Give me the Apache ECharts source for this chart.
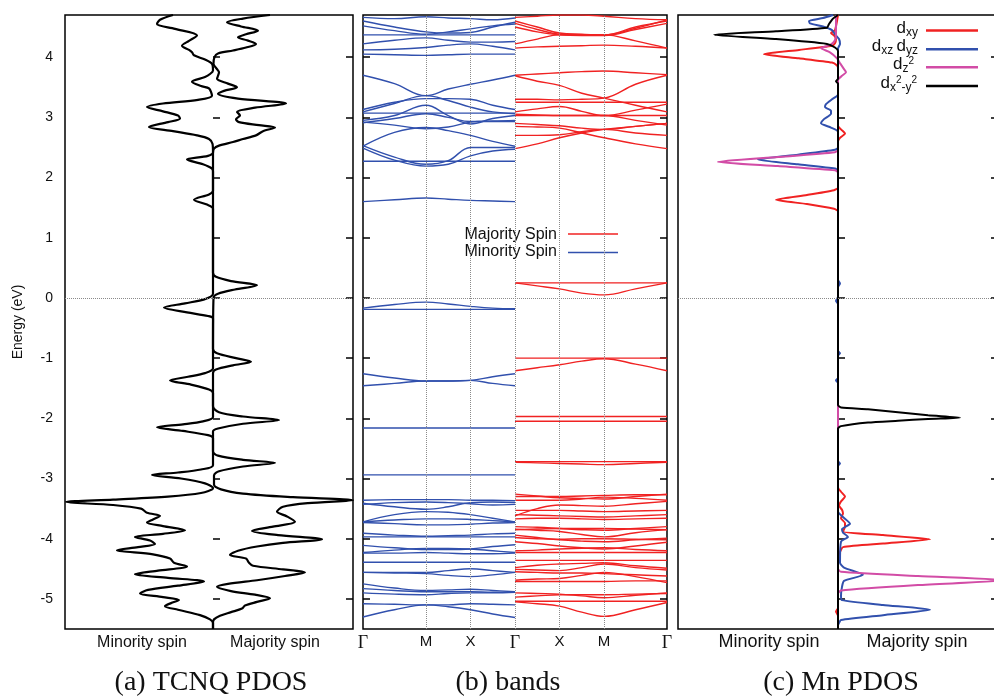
<!DOCTYPE html>
<html>
<head>
<meta charset="utf-8">
<script src="https://cdn.jsdelivr.net/npm/echarts@6/dist/echarts.min.js"></script>
<style>
  html, body { margin: 0; padding: 0; background: #fff; }
  #chart { width: 994px; height: 698px; }
</style>
</head>
<body>
<div id="chart"></div>
<script>
// energy axis shared by the three panels
var E_MIN = -5.5, E_MAX = 4.7;
var energyTicks = [-5, -4, -3, -2, -1, 0, 1, 2, 3, 4];

// (a) TCNQ PDOS, [energy, dos] (arb. units, minority negative)
var tcnqMajority = [
  [4.70, 5.7], [4.64, 3.0], [4.58, 1.4], [4.51, 2.8], [4.44, 4.5], [4.38, 3.3], [4.33, 2.5],
  [4.28, 3.4], [4.22, 4.3], [4.16, 3.3], [4.11, 2.0], [4.06, 0.5], [4.00, 0.15], [3.89, 0.05],
  [3.80, 0.4], [3.75, 0.6], [3.69, 0.5], [3.64, 0.4], [3.56, 1.5], [3.50, 2.4], [3.44, 1.1],
  [3.39, 0.5], [3.31, 2.5], [3.23, 7.3], [3.16, 4.2], [3.09, 2.4], [3.03, 2.7], [2.97, 2.3],
  [2.92, 2.6], [2.87, 4.6], [2.83, 6.2], [2.77, 5.0], [2.70, 4.3], [2.64, 3.0], [2.59, 2.0],
  [2.53, 0.6], [2.48, 0.1], [2.40, 0], [0.42, 0], [0.35, 0.3], [0.28, 1.8], [0.21, 4.4],
  [0.14, 2.2], [0.07, 0.5], [0.00, 0.05], [-0.85, 0], [-0.92, 0.4], [-1.00, 2.3], [-1.06, 3.8],
  [-1.12, 2.0], [-1.19, 0.3], [-1.25, 0], [-1.80, 0], [-1.90, 0.6], [-1.97, 3.0], [-2.03, 6.6],
  [-2.09, 3.0], [-2.17, 0.5], [-2.22, 0], [-2.55, 0], [-2.62, 0.5], [-2.69, 3.0], [-2.74, 6.2],
  [-2.80, 3.0], [-2.88, 0.6], [-2.95, 0.1], [-3.10, 0.1], [-3.18, 0.8], [-3.25, 3.0],
  [-3.31, 8.0], [-3.36, 14.0], [-3.41, 9.5], [-3.47, 7.0], [-3.55, 6.4], [-3.63, 7.4],
  [-3.72, 8.2], [-3.80, 6.0], [-3.87, 3.9], [-3.94, 6.5], [-4.01, 10.9], [-4.07, 7.0],
  [-4.13, 4.4], [-4.20, 2.5], [-4.27, 1.7], [-4.33, 3.3], [-4.40, 3.6], [-4.45, 4.0],
  [-4.51, 7.0], [-4.56, 9.2], [-4.62, 7.2], [-4.69, 4.4], [-4.75, 1.5], [-4.80, 0.4],
  [-4.87, 1.8], [-4.93, 4.2], [-4.99, 5.7], [-5.05, 4.4], [-5.11, 3.2], [-5.16, 2.9],
  [-5.22, 1.8], [-5.28, 0.7], [-5.34, 0.1], [-5.40, 0], [-5.50, 0]
];
var tcnqMinority = [
  [4.70, -4.0], [4.62, -5.3], [4.55, -5.6], [4.47, -3.8], [4.36, -1.6], [4.27, -2.4],
  [4.19, -3.1], [4.12, -2.4], [4.08, -2.1], [4.03, -1.9], [3.96, -0.8], [3.89, -0.1],
  [3.78, 0], [3.72, -0.3], [3.67, -0.8], [3.59, -2.1], [3.52, -1.2], [3.48, -0.4],
  [3.36, -0.1], [3.29, -1.5], [3.23, -5.0], [3.17, -6.6], [3.10, -5.0], [3.03, -3.5],
  [2.98, -3.3], [2.92, -4.5], [2.84, -6.4], [2.77, -4.0], [2.70, -1.6], [2.64, -0.4],
  [2.56, -0.05], [2.42, 0], [2.36, -0.5], [2.30, -2.6], [2.22, -1.0], [2.15, -0.1],
  [2.10, 0], [1.78, 0], [1.72, -0.4], [1.63, -1.9], [1.55, -0.6], [1.48, 0], [0.07, 0],
  [-0.02, -0.8], [-0.09, -2.8], [-0.16, -4.9], [-0.24, -2.6], [-0.30, -0.5], [-0.34, 0],
  [-1.17, 0], [-1.25, -0.8], [-1.31, -2.5], [-1.37, -4.3], [-1.44, -2.2], [-1.52, -0.4],
  [-1.58, 0], [-1.98, 0], [-2.05, -1.0], [-2.10, -3.0], [-2.15, -5.6], [-2.21, -3.0],
  [-2.28, -0.5], [-2.33, 0], [-2.78, 0], [-2.85, -1.2], [-2.90, -3.5], [-2.94, -6.1],
  [-3.00, -3.2], [-3.08, -0.8], [-3.16, 0], [-3.24, -1.2], [-3.30, -4.5], [-3.35, -10.0],
  [-3.39, -14.7], [-3.44, -10.0], [-3.50, -7.2], [-3.57, -6.6], [-3.62, -5.3], [-3.68, -6.0],
  [-3.73, -6.6], [-3.79, -5.0], [-3.86, -2.8], [-3.92, -5.0], [-3.97, -7.8], [-4.03, -6.3],
  [-4.09, -5.8], [-4.14, -7.5], [-4.19, -9.6], [-4.26, -6.0], [-4.33, -4.3], [-4.40, -3.9],
  [-4.46, -2.6], [-4.53, -5.5], [-4.59, -7.8], [-4.65, -4.5], [-4.71, -0.9], [-4.78, -3.5],
  [-4.85, -6.5], [-4.91, -7.3], [-4.97, -5.0], [-5.02, -3.4], [-5.07, -4.2], [-5.12, -4.8],
  [-5.18, -3.5], [-5.27, -1.3], [-5.34, -0.3], [-5.40, 0], [-5.50, 0]
];

// (b) bands: path positions and tick labels
var kTicks = [0, 1.414, 2.414, 3.414, 4.414, 5.414, 6.828];
var kLabels = ['Γ', 'M', 'X', 'Γ', 'X', 'M', 'Γ'];
var kMinority = [0, 0.707, 1.414, 1.914, 2.414, 2.914, 3.414];     // Γ-M-X-Γ
var kMajority = [3.414, 3.914, 4.414, 4.914, 5.414, 6.121, 6.828]; // Γ-X-M-Γ

var minorityBands = [
  [4.66, 4.64, 4.67, 4.65, 4.64, 4.62, 4.65],
  [4.60, 4.50, 4.42, 4.40, 4.41, 4.50, 4.58],
  [4.52, 4.44, 4.38, 4.42, 4.47, 4.52, 4.55],
  [4.37, 4.37, 4.37, 4.37, 4.37, 4.37, 4.37],
  [4.22, 4.28, 4.32, 4.28, 4.25, 4.25, 4.26],
  [4.12, 4.13, 4.16, 4.20, 4.22, 4.18, 4.12],
  [4.05, 4.04, 4.03, 4.04, 4.05, 4.05, 4.05],
  [3.70, 3.56, 3.36, 3.47, 3.55, 3.62, 3.70],
  [3.09, 3.23, 3.36, 3.28, 3.17, 3.09, 3.06],
  [3.13, 3.25, 3.31, 3.31, 3.30, 3.20, 3.13],
  [3.07, 3.07, 3.07, 3.07, 3.07, 3.07, 3.07],
  [2.95, 3.03, 3.20, 3.03, 2.89, 2.98, 3.03],
  [2.92, 2.87, 2.81, 2.84, 2.92, 2.94, 2.95],
  [2.91, 2.98, 3.06, 3.00, 2.93, 2.93, 2.93],
  [2.53, 2.34, 2.22, 2.28, 2.50, 2.50, 2.50],
  [2.49, 2.29, 2.19, 2.22, 2.36, 2.44, 2.47],
  [2.52, 2.75, 2.83, 2.78, 2.70, 2.60, 2.52],
  [2.27, 2.27, 2.27, 2.27, 2.27, 2.27, 2.27],
  [1.60, 1.63, 1.66, 1.64, 1.62, 1.61, 1.60],
  [-0.17, -0.11, -0.07, -0.10, -0.14, -0.17, -0.18],
  [-0.19, -0.19, -0.19, -0.19, -0.19, -0.19, -0.19],
  [-1.26, -1.33, -1.38, -1.38, -1.37, -1.31, -1.26],
  [-1.46, -1.42, -1.38, -1.38, -1.37, -1.42, -1.46],
  [-2.16, -2.16, -2.16, -2.16, -2.16, -2.16, -2.16],
  [-2.94, -2.94, -2.94, -2.94, -2.94, -2.94, -2.94],
  [-3.36, -3.35, -3.35, -3.35, -3.36, -3.36, -3.37],
  [-3.41, -3.47, -3.51, -3.47, -3.40, -3.39, -3.40],
  [-3.43, -3.40, -3.39, -3.40, -3.42, -3.44, -3.43],
  [-3.72, -3.60, -3.55, -3.56, -3.60, -3.66, -3.72],
  [-3.72, -3.69, -3.67, -3.67, -3.68, -3.70, -3.72],
  [-3.73, -3.75, -3.77, -3.77, -3.76, -3.74, -3.73],
  [-3.91, -3.94, -3.96, -3.95, -3.94, -3.92, -3.91],
  [-3.97, -3.97, -3.97, -3.97, -3.97, -3.97, -3.97],
  [-4.11, -4.15, -4.18, -4.18, -4.17, -4.13, -4.10],
  [-4.23, -4.19, -4.16, -4.16, -4.17, -4.20, -4.23],
  [-4.24, -4.24, -4.23, -4.24, -4.25, -4.25, -4.24],
  [-4.39, -4.39, -4.39, -4.39, -4.39, -4.39, -4.39],
  [-4.56, -4.56, -4.56, -4.53, -4.50, -4.53, -4.56],
  [-4.56, -4.57, -4.58, -4.61, -4.63, -4.60, -4.56],
  [-4.75, -4.82, -4.86, -4.85, -4.84, -4.86, -4.88],
  [-4.83, -4.86, -4.88, -4.88, -4.88, -4.89, -4.89],
  [-4.90, -4.92, -4.93, -4.91, -4.90, -4.90, -4.89],
  [-5.08, -5.09, -5.10, -5.10, -5.08, -5.09, -5.10],
  [-5.30, -5.18, -5.10, -5.13, -5.18, -5.25, -5.31]
];

var majorityBands = [
  [4.66, 4.68, 4.70, 4.70, 4.68, 4.64, 4.62],
  [4.60, 4.50, 4.40, 4.38, 4.37, 4.48, 4.62],
  [4.56, 4.46, 4.38, 4.37, 4.37, 4.50, 4.60],
  [4.50, 4.42, 4.37, 4.36, 4.36, 4.46, 4.56],
  [4.22, 4.30, 4.37, 4.37, 4.37, 4.27, 4.15],
  [4.15, 4.17, 4.18, 4.19, 4.20, 4.18, 4.15],
  [3.70, 3.72, 3.74, 3.76, 3.77, 3.74, 3.71],
  [3.69, 3.60, 3.53, 3.40, 3.32, 3.20, 3.09],
  [3.30, 3.30, 3.29, 3.30, 3.32, 3.55, 3.70],
  [3.25, 3.25, 3.25, 3.25, 3.25, 3.25, 3.25],
  [3.09, 3.14, 3.18, 3.10, 3.03, 3.12, 3.22],
  [3.05, 3.04, 3.03, 3.03, 3.03, 2.95, 2.87],
  [3.03, 3.03, 3.03, 3.03, 3.03, 3.03, 3.03],
  [2.90, 2.88, 2.86, 2.82, 2.80, 2.85, 2.90],
  [2.70, 2.70, 2.71, 2.76, 2.80, 2.74, 2.70],
  [2.48, 2.56, 2.66, 2.74, 2.80, 2.85, 2.90],
  [2.85, 2.84, 2.82, 2.74, 2.66, 2.56, 2.48],
  [0.25, 0.25, 0.25, 0.25, 0.25, 0.25, 0.25],
  [0.25, 0.20, 0.15, 0.08, 0.05, 0.15, 0.25],
  [-1.00, -1.00, -1.00, -1.00, -1.00, -1.00, -1.00],
  [-1.21, -1.16, -1.11, -1.05, -1.01, -1.10, -1.21],
  [-1.97, -1.97, -1.97, -1.97, -1.97, -1.97, -1.97],
  [-2.05, -2.05, -2.05, -2.05, -2.05, -2.05, -2.05],
  [-2.72, -2.72, -2.72, -2.72, -2.72, -2.72, -2.72],
  [-2.73, -2.74, -2.75, -2.76, -2.77, -2.75, -2.73],
  [-3.26, -3.29, -3.32, -3.33, -3.34, -3.30, -3.26],
  [-3.30, -3.30, -3.30, -3.29, -3.28, -3.27, -3.27],
  [-3.36, -3.36, -3.36, -3.34, -3.31, -3.33, -3.36],
  [-3.62, -3.50, -3.44, -3.45, -3.46, -3.42, -3.38],
  [-3.53, -3.53, -3.53, -3.54, -3.55, -3.54, -3.53],
  [-3.60, -3.61, -3.62, -3.63, -3.64, -3.62, -3.60],
  [-3.67, -3.66, -3.66, -3.67, -3.68, -3.67, -3.66],
  [-3.80, -3.81, -3.83, -3.85, -3.86, -3.83, -3.80],
  [-3.84, -3.86, -3.88, -3.93, -3.97, -3.90, -3.85],
  [-3.85, -3.84, -3.83, -3.83, -3.83, -3.84, -3.85],
  [-3.94, -3.98, -4.02, -4.04, -4.05, -4.02, -3.99],
  [-3.98, -4.00, -4.01, -4.00, -4.00, -4.01, -4.02],
  [-4.05, -4.08, -4.12, -4.15, -4.17, -4.12, -4.06],
  [-4.20, -4.19, -4.17, -4.16, -4.15, -4.18, -4.20],
  [-4.23, -4.23, -4.23, -4.23, -4.23, -4.23, -4.23],
  [-4.36, -4.36, -4.36, -4.36, -4.36, -4.36, -4.36],
  [-4.48, -4.44, -4.42, -4.41, -4.40, -4.45, -4.49],
  [-4.51, -4.52, -4.53, -4.48, -4.42, -4.48, -4.52],
  [-4.55, -4.56, -4.57, -4.57, -4.58, -4.60, -4.62],
  [-4.69, -4.67, -4.66, -4.61, -4.56, -4.63, -4.73],
  [-4.71, -4.71, -4.71, -4.71, -4.71, -4.70, -4.70],
  [-4.90, -4.91, -4.92, -4.95, -4.98, -4.94, -4.90],
  [-4.97, -4.95, -4.93, -4.93, -4.93, -4.92, -4.91],
  [-5.04, -5.04, -5.04, -5.04, -5.04, -5.04, -5.04],
  [-5.05, -5.08, -5.12, -5.22, -5.29, -5.18, -5.06]
];

// (c) Mn PDOS, [energy, dos]
var mnDxy = [
  [4.70, 0], [4.45, -0.3], [4.40, -0.7], [4.36, -0.4], [4.30, -0.2], [4.23, -0.3], [4.19, -0.6],
  [4.12, -3.9], [4.05, -7.4], [3.98, -3.9], [3.91, -0.6], [3.86, -0.1], [3.82, 0], [2.86, 0],
  [2.80, 0.3], [2.73, 0.7], [2.66, 0.2], [2.60, 0], [1.83, 0], [1.79, -0.4], [1.71, -3.1],
  [1.63, -6.2], [1.56, -3.1], [1.48, -0.4], [1.44, 0], [-3.15, 0], [-3.22, 0.3], [-3.30, 0.7],
  [-3.38, 0.3], [-3.45, 0.1], [-3.52, 0.4], [-3.58, 0.5], [-3.66, 0.3], [-3.74, 0.7],
  [-3.80, 0.7], [-3.88, 0.5], [-3.94, 4.5], [-4.01, 9.2], [-4.08, 4.5], [-4.14, 0.5],
  [-4.22, 0.2], [-4.30, 0], [-5.15, 0], [-5.21, -0.2], [-5.28, 0], [-5.50, 0]
];
var mnDxzDyz = [
  [4.70, -0.5], [4.65, -1.5], [4.60, -2.9], [4.56, -2.8], [4.51, -1.5], [4.45, -0.6], [4.38, -0.3],
  [4.30, 0.1], [4.22, 0.2], [4.14, 0], [3.38, 0], [3.30, -0.6], [3.22, -1.2], [3.17, -1.3],
  [3.11, -0.7], [3.06, -0.7], [2.97, -1.4], [2.90, -1.7], [2.83, -0.7], [2.76, 0], [2.50, 0],
  [2.46, -0.3], [2.38, -4.0], [2.30, -8.0], [2.22, -4.0], [2.15, -0.3], [2.11, 0], [0.30, 0],
  [0.24, 0.2], [0.18, 0], [0.02, 0], [-0.05, -0.2], [-0.10, 0], [-0.88, 0], [-0.92, 0.2],
  [-0.96, 0], [-1.33, 0], [-1.37, -0.2], [-1.41, 0], [-2.71, 0], [-2.75, 0.2], [-2.79, 0],
  [-3.55, 0], [-3.64, 0.5], [-3.75, 1.2], [-3.84, 0.4], [-3.90, 0.5], [-3.97, 1.0], [-4.05, 0.3],
  [-4.40, 0.2], [-4.48, 0.6], [-4.60, 2.5], [-4.70, 0.6], [-4.80, 0.4], [-4.95, 0.3],
  [-5.02, 0.4], [-5.10, 4.5], [-5.18, 9.2], [-5.27, 4.5], [-5.35, 0.3], [-5.40, 0.1],
  [-5.44, 0], [-5.50, 0]
];
var mnDz2 = [
  [4.70, -0.2], [4.40, -0.2], [4.28, -0.3], [4.20, -0.8], [4.15, -1.7], [4.08, -0.8],
  [3.98, -0.1], [3.90, 0.2], [3.80, 0.6], [3.75, 0.8], [3.69, 0.4], [3.62, 0], [2.46, 0],
  [2.42, -0.3], [2.34, -6.0], [2.26, -12.0], [2.19, -6.0], [2.12, -0.3], [2.08, 0],
  [-4.50, 0], [-4.55, 0.3], [-4.62, 8.0], [-4.69, 17.0], [-4.77, 8.0], [-4.86, 0.3],
  [-4.91, 0], [-5.50, 0]
];
var mnDx2y2 = [
  [4.70, 0], [4.64, -0.5], [4.55, -0.9], [4.49, -1.1], [4.43, -6.2], [4.37, -12.4], [4.30, -6.2],
  [4.22, -1.1], [4.16, -0.3], [4.10, 0], [3.64, 0], [3.60, -0.2], [3.56, 0], [-1.78, 0],
  [-1.82, 0.3], [-1.85, 3.0], [-1.90, 6.0], [-1.95, 9.0], [-1.99, 12.2], [-2.01, 9.0],
  [-2.04, 6.0], [-2.07, 3.0], [-2.13, 0.3], [-2.17, 0], [-5.50, 0]
];

var RED = '#f02222', BLUE = '#3150ad', MAGENTA = '#d24ca6', BLACK = '#000';
var SANS = 'Liberation Sans';
var SERIF = 'Liberation Serif';

var chart = echarts.init(document.getElementById('chart'));

function energyAxes(gi, withLabels) {
  var tick = { inside: true, length: 7, customValues: energyTicks, lineStyle: { color: '#000', width: 1.5 } };
  return [
    {
      gridIndex: gi, type: 'value', position: 'left', min: E_MIN, max: E_MAX,
      axisLine: { show: false }, splitLine: { show: false }, axisTick: tick,
      axisLabel: { show: withLabels, customValues: energyTicks, margin: 12, fontSize: 14, color: '#111', fontFamily: SANS },
      name: withLabels ? 'Energy (eV)' : '', nameLocation: 'middle', nameGap: 40,
      nameTextStyle: { fontSize: 14, color: '#111', fontFamily: SANS }
    },
    {
      gridIndex: gi, type: 'value', position: 'right', min: E_MIN, max: E_MAX,
      axisLine: { show: false }, splitLine: { show: false }, axisTick: tick,
      axisLabel: { show: false }
    }
  ];
}

var dotted = { type: 'dotted', color: '#8a8a8a', width: 1 };

function dosLine(points, gi, color, width, smooth, extra) {
  var s = {
    type: 'line', xAxisIndex: gi, yAxisIndex: gi * 2, showSymbol: false, symbol: 'none',
    smooth: smooth, silent: true,
    lineStyle: { color: color, width: width },
    data: points.map(function (p) { return [p[1], p[0]]; })
  };
  return Object.assign(s, extra || {});
}

function bandLine(band, ks, color) {
  return {
    type: 'line', xAxisIndex: 1, yAxisIndex: 2, showSymbol: false, symbol: 'none',
    smooth: 0.4, silent: true,
    lineStyle: { color: color, width: 1.4 },
    data: band.map(function (e, i) { return [ks[i], e]; })
  };
}

var series = [];
series.push(dosLine(tcnqMinority, 0, BLACK, 2.2, 0.3, {
  markLine: { silent: true, symbol: ['none', 'none'], label: { show: false }, lineStyle: dotted, data: [{ yAxis: 0 }] }
}));
series.push(dosLine(tcnqMajority, 0, BLACK, 2.2, 0.3));

var guides = kTicks.slice(1, -1).map(function (k) { return { xAxis: k }; });
guides.push({ yAxis: 0 });
minorityBands.forEach(function (b, i) {
  var s = bandLine(b, kMinority, BLUE);
  if (i === 0) s.markLine = { silent: true, symbol: ['none', 'none'], label: { show: false }, lineStyle: dotted, data: guides };
  series.push(s);
});
majorityBands.forEach(function (b) { series.push(bandLine(b, kMajority, RED)); });

series.push(dosLine(mnDxy, 2, RED, 2, 0.2, {
  markLine: { silent: true, symbol: ['none', 'none'], label: { show: false }, lineStyle: dotted, data: [{ yAxis: 0 }] }
}));
series.push(dosLine(mnDxzDyz, 2, BLUE, 2, 0.2));
series.push(dosLine(mnDz2, 2, MAGENTA, 2, 0.2));
series.push(dosLine(mnDx2y2, 2, BLACK, 2, 0.2));

var gridBase = {
  top: 15, height: 614, show: true, borderColor: '#000', borderWidth: 1.5,
  backgroundColor: 'transparent', outerBoundsMode: 'none'
};

var spinLabel = function (v) { return v < 0 ? 'Minority spin' : 'Majority spin'; };

var sub = { fontSize: 12, fontFamily: SANS, fill: '#111', padding: [9, 0, 0, 0] };
var sup = { fontSize: 10, fontFamily: SANS, fill: '#111', padding: [0, 0, 5, 0] };
var dRich = { d: { fontSize: 17, fontFamily: SANS, fill: '#111' }, s: sub, u: sup };

var option = {
  animation: false,
  backgroundColor: '#fff',
  grid: [
    Object.assign({ left: 65, width: 288 }, gridBase),
    Object.assign({ left: 363, width: 304 }, gridBase),
    Object.assign({ left: 678, width: 320 }, gridBase)
  ],
  xAxis: [
    {
      gridIndex: 0, type: 'value', min: -14.8, max: 14.0,
      axisLine: { show: false }, axisTick: { show: false }, splitLine: { show: false },
      axisLabel: { customValues: [-7.1, 6.2], formatter: spinLabel, margin: 6, fontSize: 16, color: '#111', fontFamily: SANS }
    },
    {
      gridIndex: 1, type: 'value', min: 0, max: 6.828,
      axisLine: { show: false }, axisTick: { show: false }, splitLine: { show: false },
      axisLabel: {
        customValues: kTicks, margin: 5, color: '#111',
        formatter: function (v) {
          var i = kTicks.findIndex(function (t) { return Math.abs(t - v) < 1e-6; });
          var lab = kLabels[i];
          return lab === 'Γ' ? '{g|Γ}' : '{s|' + lab + '}';
        },
        rich: {
          g: { fontFamily: SERIF, fontSize: 18, color: '#111' },
          s: { fontFamily: SANS, fontSize: 15, color: '#111' }
        }
      }
    },
    {
      gridIndex: 2, type: 'value', min: -16.0, max: 16.0,
      axisLine: { show: false }, axisTick: { show: false }, splitLine: { show: false },
      axisLabel: { customValues: [-6.9, 7.9], formatter: spinLabel, margin: 4, fontSize: 18, color: '#111', fontFamily: SANS }
    }
  ],
  yAxis: energyAxes(0, true).concat(energyAxes(1, false), energyAxes(2, false)),
  series: series,
  graphic: [
    // (b) legend
    { type: 'text', x: 557, y: 235, silent: true, style: { text: 'Majority Spin', textAlign: 'right', textVerticalAlign: 'middle', fontSize: 16, fontFamily: SANS, fill: '#111' } },
    { type: 'line', silent: true, shape: { x1: 568, y1: 234, x2: 618, y2: 234 }, style: { stroke: RED, lineWidth: 1.5 } },
    { type: 'text', x: 557, y: 252, silent: true, style: { text: 'Minority Spin', textAlign: 'right', textVerticalAlign: 'middle', fontSize: 16, fontFamily: SANS, fill: '#111' } },
    { type: 'line', silent: true, shape: { x1: 568, y1: 252.5, x2: 618, y2: 252.5 }, style: { stroke: BLUE, lineWidth: 1.5 } },
    // (c) legend
    { type: 'text', x: 918, y: 28, silent: true, style: { text: '{d|d}{s|xy}', rich: dRich, textAlign: 'right', textVerticalAlign: 'middle' } },
    { type: 'line', silent: true, shape: { x1: 926, y1: 30.5, x2: 978, y2: 30.5 }, style: { stroke: RED, lineWidth: 2.5 } },
    { type: 'text', x: 918, y: 46, silent: true, style: { text: '{d|d}{s|xz} {d|d}{s|yz}', rich: dRich, textAlign: 'right', textVerticalAlign: 'middle' } },
    { type: 'line', silent: true, shape: { x1: 926, y1: 49.3, x2: 978, y2: 49.3 }, style: { stroke: BLUE, lineWidth: 2.5 } },
    { type: 'text', x: 914, y: 64, silent: true, style: { text: '{d|d}{s|z}{u|2}', rich: dRich, textAlign: 'right', textVerticalAlign: 'middle' } },
    { type: 'line', silent: true, shape: { x1: 926, y1: 67.3, x2: 978, y2: 67.3 }, style: { stroke: MAGENTA, lineWidth: 2.5 } },
    { type: 'text', x: 917, y: 83, silent: true, style: { text: '{d|d}{s|x}{u|2}{s|-y}{u|2}', rich: dRich, textAlign: 'right', textVerticalAlign: 'middle' } },
    { type: 'line', silent: true, shape: { x1: 926, y1: 86, x2: 978, y2: 86 }, style: { stroke: BLACK, lineWidth: 2.5 } },
    // panel captions
    { type: 'text', x: 211, y: 683, silent: true, style: { text: '(a) TCNQ PDOS', textAlign: 'center', textVerticalAlign: 'middle', fontSize: 28, fontFamily: SERIF, fill: '#111' } },
    { type: 'text', x: 508, y: 683, silent: true, style: { text: '(b) bands', textAlign: 'center', textVerticalAlign: 'middle', fontSize: 28, fontFamily: SERIF, fill: '#111' } },
    { type: 'text', x: 841, y: 683, silent: true, style: { text: '(c) Mn PDOS', textAlign: 'center', textVerticalAlign: 'middle', fontSize: 28, fontFamily: SERIF, fill: '#111' } }
  ]
};

chart.setOption(option);
</script>
</body>
</html>
